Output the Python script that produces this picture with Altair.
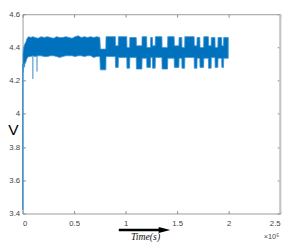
import altair as alt
import pandas as pd

BLUE = "#0072BD"

# time in units of 1e5 s
x_ticks = [0, 0.5, 1, 1.5, 2, 2.5]
y_ticks = [3.4, 3.6, 3.8, 4.0, 4.2, 4.4, 4.6]

# early (continuous high) part of the trace: envelope of the noisy band
t_early = [0.004, 0.008, 0.015, 0.020, 0.030, 0.040, 0.050, 0.060, 0.080, 0.100,
           0.120, 0.150, 0.180, 0.210, 0.240, 0.270, 0.300, 0.330, 0.360, 0.390,
           0.420, 0.450, 0.480, 0.510, 0.540, 0.570, 0.600, 0.630, 0.660, 0.690,
           0.720, 0.750]
up_early = [4.36, 4.39, 4.41, 4.42, 4.43, 4.45, 4.46, 4.465, 4.46, 4.465,
            4.46, 4.455, 4.465, 4.46, 4.465, 4.46, 4.455, 4.465, 4.46, 4.46,
            4.465, 4.46, 4.455, 4.465, 4.47, 4.46, 4.465, 4.46, 4.465, 4.46,
            4.465, 4.46]
lo_early = [4.25, 4.29, 4.30, 4.30, 4.31, 4.33, 4.34, 4.345, 4.345, 4.35,
            4.345, 4.35, 4.35, 4.345, 4.345, 4.35, 4.35, 4.345, 4.34, 4.345,
            4.35, 4.35, 4.35, 4.345, 4.35, 4.35, 4.345, 4.35, 4.35, 4.34,
            4.345, 4.345]

# switching part: segment start times, band top / bottom of each segment
seg_t = [0.755, 0.810, 0.902, 0.930, 1.013, 1.041, 1.105, 1.160, 1.206, 1.243,
         1.262, 1.289, 1.354, 1.409, 1.473, 1.519, 1.547, 1.575, 1.667, 1.694,
         1.722, 1.759, 1.805, 1.832, 1.869, 1.897, 1.934, 1.952]
seg_end = 1.998
seg_up = [4.39, 4.465, 4.41, 4.465, 4.40, 4.46, 4.41, 4.465, 4.40, 4.46,
          4.41, 4.465, 4.40, 4.465, 4.41, 4.46, 4.40, 4.465, 4.41, 4.46,
          4.40, 4.465, 4.41, 4.46, 4.40, 4.46, 4.41, 4.46]
seg_lo = [4.265, 4.345, 4.28, 4.34, 4.275, 4.34, 4.27, 4.335, 4.28, 4.34,
          4.275, 4.34, 4.27, 4.335, 4.28, 4.335, 4.275, 4.34, 4.275, 4.335,
          4.28, 4.335, 4.275, 4.34, 4.28, 4.335, 4.28, 4.335]

# downward spikes
spike_t = [0.02, 0.10, 0.14]
spike_lo = [4.28, 4.21, 4.255]
spike_hi = [4.31, 4.35, 4.35]

# initial rise at t = 0
start_t = [0.002]
start_lo = [3.42]
start_hi = [4.30]

rows = [(t, u, l) for t, u, l in zip(t_early, up_early, lo_early)]
for i, t0 in enumerate(seg_t):
    t1 = seg_t[i + 1] if i + 1 < len(seg_t) else seg_end
    rows.append((t0, seg_up[i], seg_lo[i]))
    rows.append((t1 - 0.002, seg_up[i], seg_lo[i]))
band_df = pd.DataFrame(rows, columns=["t", "hi", "lo"])
spike_df = pd.DataFrame({"t": spike_t, "lo": spike_lo, "hi": spike_hi})
start_df = pd.DataFrame({"t": start_t, "lo": start_lo, "hi": start_hi})

xs = alt.Scale(domain=[0, 2.5], nice=False, zero=False)
ys = alt.Scale(domain=[3.4, 4.6], nice=False, zero=False)

axis_bottom = alt.Axis(values=x_ticks, format="~g", orient="bottom", offset=-3,
                       tickSize=3, labelPadding=6, domain=False, grid=False,
                       title="Time(s)", titleFont="Liberation Serif",
                       titleFontStyle="italic", titleFontWeight="normal",
                       titleFontSize=10, titleX=126, titleY=30, titleAlign="center",
                       titleBaseline="alphabetic", titleColor="#111")
axis_left = alt.Axis(values=y_ticks, format="~g", orient="left", offset=-3,
                     tickSize=3, labelPadding=3, domain=False, grid=False,
                     title="V", titleAngle=0, titleFontSize=16,
                     titleFont="Liberation Sans", titleFontWeight="normal",
                     titleX=-13, titleY=119, titleAlign="center",
                     titleBaseline="middle", titleColor="#000")
axis_top = alt.Axis(values=x_ticks, orient="top", offset=-3, tickSize=3,
                    labels=False, domain=False, grid=False, title=None)
axis_right = alt.Axis(values=y_ticks, orient="right", offset=-3, tickSize=3,
                      labels=False, domain=False, grid=False, title=None)

band = alt.Chart(band_df).mark_area(
    color=BLUE, opacity=1, stroke="#3a92d2", strokeWidth=0.8).encode(
    x=alt.X("t:Q", scale=xs, axis=axis_bottom),
    y=alt.Y("lo:Q", scale=ys, axis=axis_left),
    y2="hi:Q",
)
spikes = alt.Chart(spike_df).mark_rule(color="#2a86cc", strokeWidth=1).encode(
    x=alt.X("t:Q", scale=xs, axis=None),
    y=alt.Y("lo:Q", scale=ys, axis=None),
    y2="hi:Q",
)
start = alt.Chart(start_df).mark_rule(color="#3a92d2", strokeWidth=1.5).encode(
    x=alt.X("t:Q", scale=xs, axis=None),
    y=alt.Y("lo:Q", scale=ys, axis=None),
    y2="hi:Q",
)
right_edge = alt.Chart(pd.DataFrame({"x": [x_ticks[-1]]})).mark_rule(
    color="#c4c4c4", strokeWidth=2).encode(x=alt.X("x:Q", scale=xs, axis=None))

ticks_layer = alt.Chart(pd.DataFrame({"x": [x_ticks[0], x_ticks[-1]],
                                      "y": [y_ticks[0], y_ticks[-1]]})).mark_point(
    opacity=0).encode(
    x=alt.X("x:Q", scale=xs, axis=axis_top),
    y=alt.Y("y:Q", scale=ys, axis=axis_right),
)

one = pd.DataFrame({"a": [0]})
arrow_line = alt.Chart(one).mark_rule(color="black", strokeWidth=2.5).encode(
    x=alt.value(99), x2=alt.value(142), y=alt.value(222))
arrow_head = alt.Chart(one).mark_point(
    shape="M-1,-0.5L1,0L-1,0.5Z", filled=True, color="black", opacity=1,
    size=144).encode(x=alt.value(146), y=alt.value(222))
exp_text = alt.Chart(one).mark_text(
    text="×10⁵", align="right", baseline="alphabetic", fontSize=7.5,
    font="Liberation Sans", color="#444").encode(x=alt.value(264), y=alt.value(231))

chart = alt.layer(
    band, spikes, start, right_edge, ticks_layer, arrow_line, arrow_head, exp_text
).resolve_axis(x="independent", y="independent").properties(
    width=265, height=205,
    autosize=alt.AutoSizeParams(type="none"),
    padding={"left": 15, "top": 3, "right": 6, "bottom": 30},
).configure_axis(
    labelFont="Liberation Sans", labelFontSize=8, labelColor="#444",
    tickColor="#8a8a8a", tickWidth=1,
).configure_view(stroke="#9a9a9a", strokeWidth=1)

chart.save("out.html", embed_options={"renderer": "svg", "actions": False})
